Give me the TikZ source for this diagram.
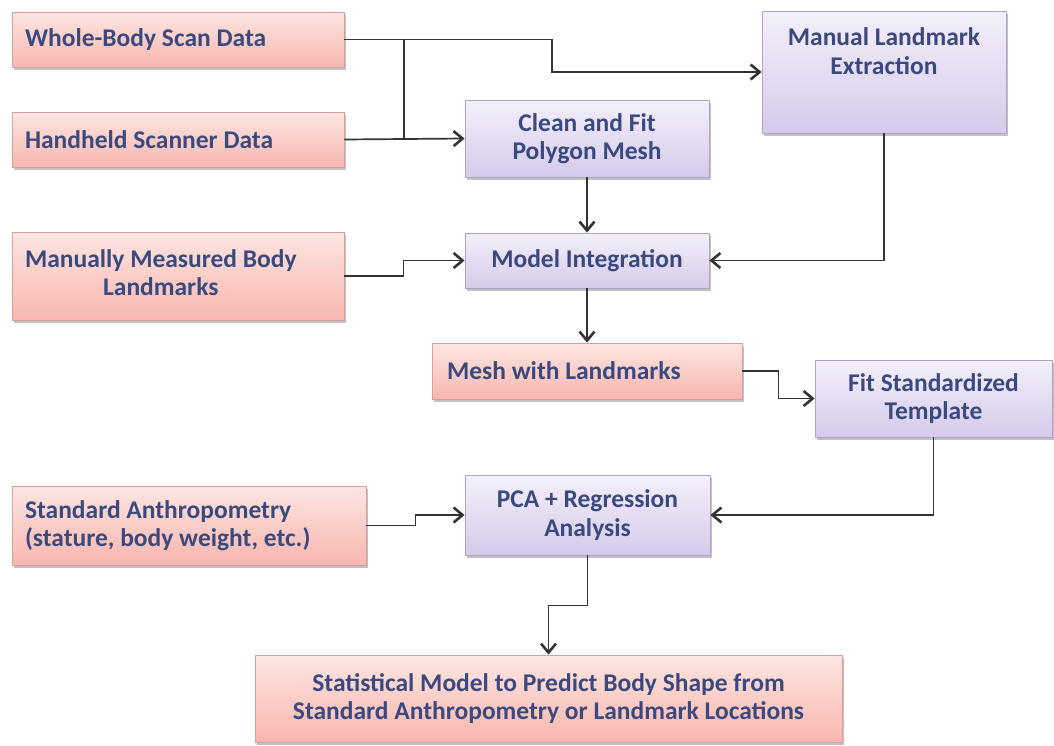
\documentclass[tikz,border=0pt]{standalone}
\usepackage{fontspec}
\setmainfont{Carlito}
\usetikzlibrary{arrows.meta,shadows,calc}
\definecolor{txt}{HTML}{3B4A7E}
\definecolor{pinktop}{HTML}{FDE6E2}
\definecolor{pinkbot}{HTML}{F8B6AF}
\definecolor{pinkline}{HTML}{D9A09B}
\definecolor{purptop}{HTML}{F4F0FA}
\definecolor{purpbot}{HTML}{D5CAEA}
\definecolor{purpline}{HTML}{AEA3CB}
\definecolor{linegray}{HTML}{333333}
\tikzset{
  boxfont/.style={font=\fontsize{25.5}{28.5}\selectfont\bfseries, text=txt},
  box/.style={rectangle, inner sep=0pt, line width=0.8pt, boxfont,
    drop shadow={shadow xshift=2pt, shadow yshift=-2.5pt, opacity=0.35, fill=black!70}},
  pinkbox/.style={box, draw=pinkline, top color=pinktop, bottom color=pinkbot},
  purpbox/.style={box, draw=purpline, top color=purptop, bottom color=purpbot},
  conn/.style={draw=linegray, line width=1.7pt},
  arr/.style={conn, -{Straight Barb[length=9pt,width=15pt,line width=2.6pt]}}
}
\begin{document}
\begin{tikzpicture}[x=1pt,y=-1pt]
\useasboundingbox (0,0) rectangle (1054,745);
% nodes
\node[pinkbox, minimum width=332pt, minimum height=55pt, text width=306pt, align=flush left] (wbs) at (178,39.5) {Whole-Body Scan Data};
\node[pinkbox, minimum width=332pt, minimum height=55pt, text width=306pt, align=flush left] (hsd) at (178,139.5) {Handheld Scanner Data};
\node[pinkbox, minimum width=332pt, minimum height=88pt, text width=306pt, align=flush left] (mmbl) at (178,276) {\begin{tabular}{@{}c@{}}Manually Measured Body\\Landmarks\end{tabular}};
\node[purpbox, minimum width=244pt, minimum height=77pt, align=center] (clean) at (587,138.5) {Clean and Fit\\Polygon Mesh};
\node[purpbox, minimum width=244pt, minimum height=122pt,
  label={[boxfont, align=center, yshift=21pt]center:{Manual Landmark\\Extraction}}] (mle) at (884,72) {};
\node[purpbox, minimum width=244pt, minimum height=55pt] (mi) at (587,260.5) {Model Integration};
\node[pinkbox, minimum width=310pt, minimum height=56pt, text width=280pt, align=flush left] (mesh) at (587,371) {Mesh with Landmarks};
\node[purpbox, minimum width=237pt, minimum height=77pt, align=center] (fit) at (933.5,398.5) {Fit Standardized\\Template};
\node[pinkbox, minimum width=354pt, minimum height=79pt, text width=328pt, align=flush left] (std) at (189,525.5) {Standard Anthropometry\\(stature, body weight, etc.)};
\node[purpbox, minimum width=245pt, minimum height=80pt, align=center] (pca) at (587.5,515) {PCA + Regression\\Analysis};
\node[pinkbox, minimum width=587pt, minimum height=87pt, align=center] (stat) at (548.5,698.5) {Statistical Model to Predict Body Shape from\\Standard Anthropometry or Landmark Locations};
% connectors
\coordinate (j1) at (404,39.5);
\coordinate (s1) at (552,39.5);
\draw[arr] (wbs.east) -- (s1) |- (mle.west);
\draw[conn] (j1) -- (j1 |- hsd.east);
\draw[arr] (hsd.east) -- (clean.west);
\draw[arr] (clean.south) -- (mi.north);
\draw[arr] (mle.south) |- (mi.east);
\draw[arr] (mmbl.east) -- ++(59,0) |- (mi.west);
\draw[arr] (mi.south) -- (mesh.north);
\draw[arr] (mesh.east) -- ++(36,0) |- (fit.west);
\draw[arr] (fit.south) |- (pca.east);
\draw[arr] (std.east) -- ++(49,0) |- (pca.west);
\draw[arr] (pca.south) -- ++(0,50) -| (stat.north);
\end{tikzpicture}
\end{document}
